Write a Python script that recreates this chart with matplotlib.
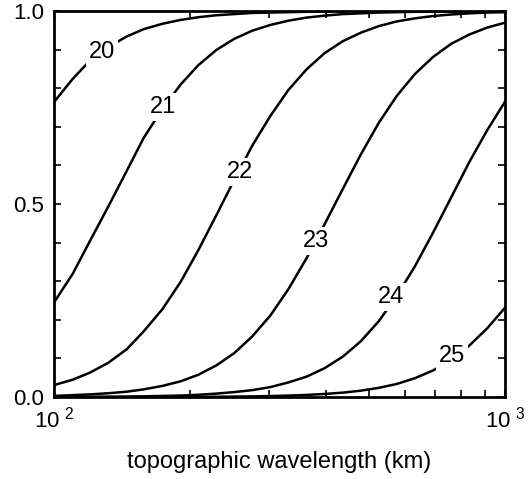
import numpy as np
import matplotlib
matplotlib.use('Agg')
import matplotlib.pyplot as plt
from matplotlib.ticker import FixedLocator, NullFormatter

plt.rcParams['font.family'] = ['Liberation Sans', 'DejaVu Sans']
plt.rcParams['mathtext.default'] = 'regular'

# wavelength (km) sample points
wl = [100, 110, 120, 132, 145, 158, 174, 191, 209, 229, 251, 275, 302,
      331, 363, 398, 437, 479, 525, 575, 631, 692, 759, 832, 912, 1000]

# response for each log10(D) curve
r20 = [0.764, 0.824, 0.871, 0.907, 0.934, 0.953, 0.967, 0.977, 0.984, 0.989,
       0.992, 0.995, 0.996, 0.997, 0.998, 0.999, 0.999, 1.0, 1.0, 1.0,
       1.0, 1.0, 1.0, 1.0, 1.0, 1.0]
r21 = [0.245, 0.319, 0.403, 0.494, 0.586, 0.671, 0.747, 0.810, 0.860, 0.899,
       0.928, 0.949, 0.964, 0.975, 0.983, 0.988, 0.992, 0.994, 0.996, 0.997,
       0.998, 0.999, 0.999, 0.999, 1.0, 1.0]
r22 = [0.031, 0.045, 0.063, 0.089, 0.124, 0.170, 0.228, 0.299, 0.381, 0.471,
       0.563, 0.651, 0.729, 0.796, 0.849, 0.891, 0.922, 0.944, 0.961, 0.973,
       0.981, 0.987, 0.991, 0.994, 0.996, 0.997]
r23 = [0.003, 0.005, 0.007, 0.010, 0.014, 0.020, 0.029, 0.041, 0.058, 0.082,
       0.114, 0.157, 0.212, 0.280, 0.360, 0.448, 0.540, 0.629, 0.711, 0.780,
       0.837, 0.881, 0.915, 0.939, 0.957, 0.970]
r24 = [0.0003, 0.0005, 0.0007, 0.001, 0.0014, 0.002, 0.003, 0.004, 0.006, 0.009,
       0.013, 0.018, 0.026, 0.038, 0.053, 0.075, 0.105, 0.145, 0.197, 0.262,
       0.339, 0.426, 0.517, 0.608, 0.691, 0.766]
r25 = [0.0, 0.0, 0.0001, 0.0001, 0.0001, 0.0002, 0.0003, 0.0004, 0.0006, 0.0009,
       0.0013, 0.0019, 0.0027, 0.0039, 0.0056, 0.0081, 0.0116, 0.0167, 0.024, 0.034,
       0.049, 0.069, 0.096, 0.133, 0.178, 0.232]

curves = [r20, r21, r22, r23, r24, r25]
names = ['20', '21', '22', '23', '24', '25']
# label positions (wavelength, response)
lab_x = [128, 174, 258, 381, 558, 762]
lab_y = [0.894, 0.751, 0.583, 0.404, 0.259, 0.106]

fig = plt.figure(figsize=(5.29, 4.79), dpi=100)
ax = fig.add_axes([0.102, 0.171, 0.853, 0.806])

for r in curves:
    ax.plot(wl, r, color='k', lw=1.8, solid_capstyle='butt')

for n, x, y in zip(names, lab_x, lab_y):
    ax.text(x, y, n, fontsize=17, ha='center', va='center', zorder=5,
            bbox=dict(facecolor='white', edgecolor='none', pad=2.0))

ax.set_xscale('log')
ax.set_xlim(100, 1000)
ax.set_ylim(0, 1)

ax.xaxis.set_major_locator(FixedLocator([100, 1000]))
ax.set_xticklabels([r'$10^{\ 2}$', r'$10^{\ 3}$'])
ax.xaxis.set_minor_locator(FixedLocator([200, 300, 400, 500, 600, 700, 800, 900]))
ax.xaxis.set_minor_formatter(NullFormatter())
ax.set_yticks([0, 0.5, 1.0])
ax.set_yticklabels(['0.0', '0.5', '1.0'])
ax.yaxis.set_minor_locator(FixedLocator(np.arange(0.1, 1.0, 0.1)))

ax.tick_params(which='both', direction='in', top=True, right=True,
               length=5, width=1.2, labelsize=16, color='k')
ax.tick_params(axis='y', pad=7)
ax.tick_params(axis='x', pad=7)
for s in ax.spines.values():
    s.set_linewidth(2)

ax.set_xlabel('topographic wavelength (km)', fontsize=17, labelpad=13)

fig.savefig('out.png', dpi=100)
